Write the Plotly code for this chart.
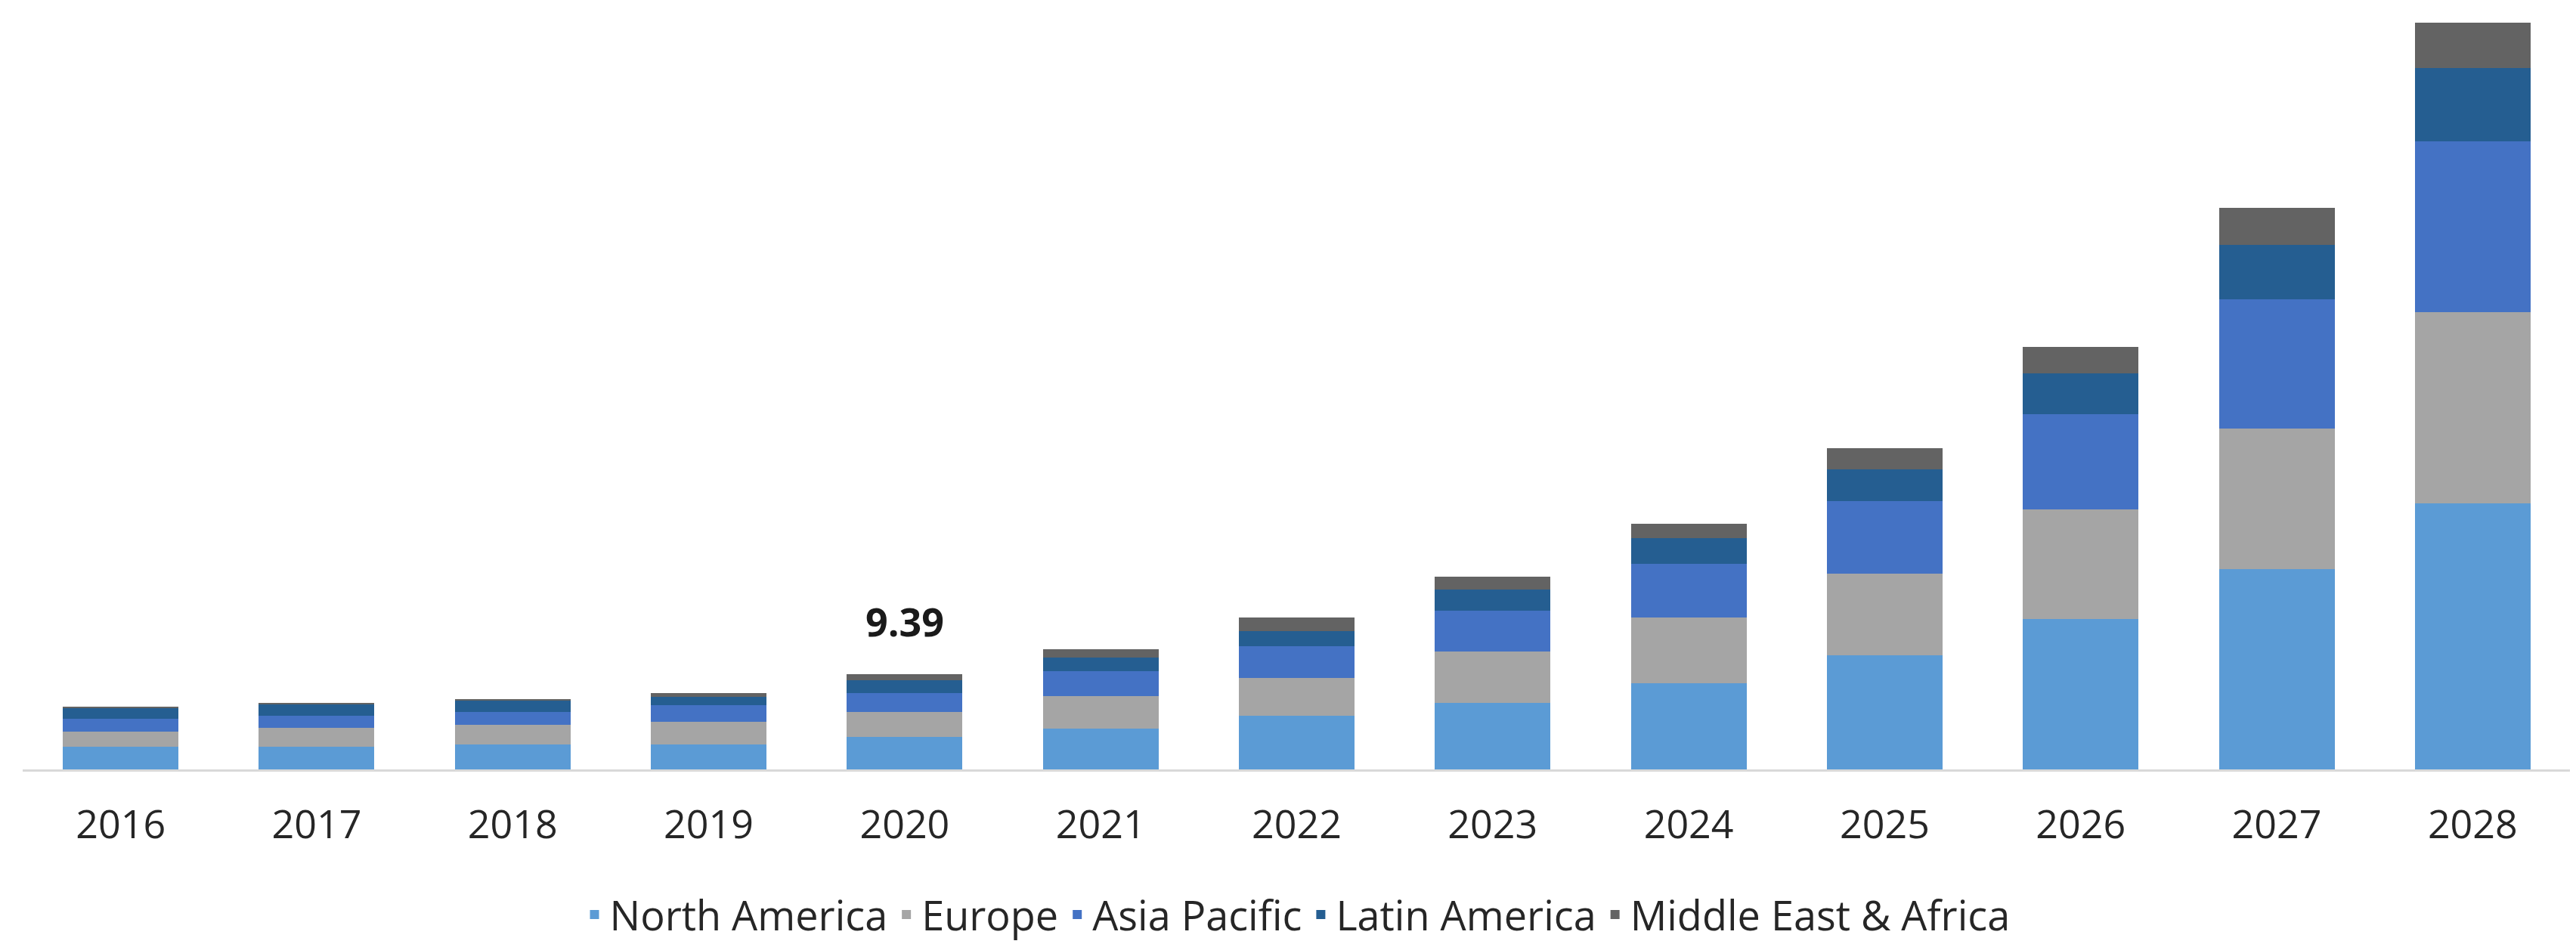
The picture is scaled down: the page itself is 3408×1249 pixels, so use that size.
import plotly.graph_objects as go

years = ["2016", "2017", "2018", "2019", "2020", "2021", "2022",
         "2023", "2024", "2025", "2026", "2027", "2028"]
north_america = [2.25, 2.22, 2.47, 2.47, 3.21, 4.02, 5.29, 6.54, 8.44, 11.19, 14.77, 19.68, 26.19]
europe = [1.45, 1.85, 1.93, 2.22, 2.47, 3.18, 3.70, 5.03, 6.48, 8.03, 10.77, 13.87, 18.78]
asia_pacific = [1.30, 1.24, 1.28, 1.61, 1.85, 2.43, 3.15, 4.02, 5.29, 7.17, 9.37, 12.67, 16.78]
latin_america = [1.03, 1.11, 1.11, 0.86, 1.24, 1.40, 1.48, 2.12, 2.51, 3.09, 4.06, 5.36, 7.21]
middle_east_africa = [0.15, 0.12, 0.12, 0.32, 0.62, 0.79, 1.30, 1.22, 1.46, 2.10, 2.60, 3.66, 4.51]

series = [
    ("North America", north_america, "#5B9BD5"),
    ("Europe", europe, "#A5A5A5"),
    ("Asia Pacific", asia_pacific, "#4472C4"),
    ("Latin America", latin_america, "#255E91"),
    ("Middle East & Africa", middle_east_africa, "#636363"),
]

label_year = "2020"
idx = years.index(label_year)
label_total = sum(s[1][idx] for s in series)

fig = go.Figure()
for name, vals, color in series:
    fig.add_trace(go.Bar(x=years, y=vals, name=name, marker_color=color,
                         marker_line_width=0))

fig.add_annotation(x=idx, y=label_total, text=f"<b>{label_total:.2f}</b>",
                   showarrow=False, yanchor="middle", yshift=70,
                   font=dict(family="Open Sans, Noto Sans, sans-serif", size=52, color="#1a1a1a"))

fig.update_layout(
    barmode="stack",
    bargap=0.41,
    width=3408, height=1249,
    margin=dict(l=22, r=15, t=5, b=236),
    paper_bgcolor="white", plot_bgcolor="white",
    font=dict(family="Open Sans, Noto Sans, sans-serif", color="#262626"),
    legend=dict(orientation="h", x=0.5, xanchor="center", y=-0.1915, yanchor="middle",
                font=dict(size=54, color="#262626"), traceorder="normal",
                itemwidth=30),
    showlegend=True,
)
fig.update_xaxes(type="category", range=[-0.5, len(years) - 0.5],
                 showline=True, linecolor="#D9D9D9", linewidth=3,
                 ticks="outside", ticklen=0, ticklabelstandoff=26,
                 tickfont=dict(size=52, color="#262626"), showgrid=False)
fig.update_yaxes(range=[0, 74.7], visible=False, showgrid=False, zeroline=False)

fig.write_html("out.html")
